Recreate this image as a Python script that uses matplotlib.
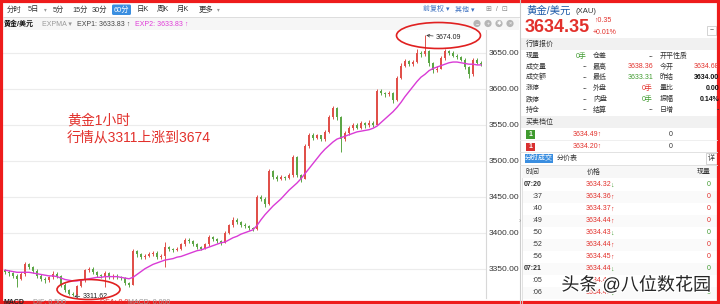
import matplotlib
matplotlib.use('Agg')
import matplotlib.pyplot as plt
import matplotlib.patheffects as pe
from matplotlib.patches import Rectangle, Ellipse, FancyBboxPatch, Circle

plt.rcParams['font.family'] = ['Liberation Sans', 'Noto Sans CJK SC', 'DejaVu Sans']

# 60 minute candles of XAU/USD (left -> right)
opens = [3348, 3346, 3344, 3340, 3336, 3342, 3356, 3352, 3347, 3340,
         3336, 3334, 3338, 3342, 3340, 3328, 3320, 3315, 3314, 3326,
         3334, 3348, 3350, 3345, 3341, 3340, 3344, 3338, 3340, 3338,
         3337, 3330, 3328, 3374, 3370, 3366, 3368, 3370, 3372, 3366,
         3368, 3380, 3377, 3376, 3378, 3384, 3390, 3388, 3384, 3380,
         3378, 3384, 3394, 3391, 3388, 3386, 3400, 3410, 3418, 3415,
         3411, 3409, 3406, 3405, 3450, 3447, 3440, 3485, 3478, 3475,
         3477, 3476, 3480, 3505, 3480, 3475, 3520, 3536, 3532, 3535,
         3530, 3540, 3560, 3573, 3560, 3530, 3538, 3545, 3550, 3546,
         3552, 3549, 3553, 3550, 3597, 3594, 3592, 3594, 3584, 3615,
         3632, 3638, 3634, 3637, 3650, 3648, 3652, 3635, 3626, 3628,
         3642, 3652, 3650, 3646, 3644, 3640, 3630, 3620, 3640, 3636]
closes = [3346, 3344, 3340, 3336, 3342, 3356, 3352, 3347, 3340, 3336,
          3334, 3338, 3342, 3340, 3328, 3320, 3315, 3314, 3326, 3334,
          3348, 3350, 3345, 3341, 3340, 3344, 3338, 3340, 3338, 3337,
          3330, 3328, 3374, 3370, 3366, 3368, 3370, 3372, 3366, 3368,
          3380, 3377, 3376, 3378, 3384, 3390, 3388, 3384, 3380, 3378,
          3384, 3394, 3391, 3388, 3386, 3400, 3410, 3418, 3415, 3411,
          3409, 3406, 3405, 3450, 3447, 3440, 3485, 3478, 3475, 3477,
          3476, 3480, 3505, 3480, 3475, 3520, 3536, 3532, 3535, 3530,
          3540, 3560, 3573, 3560, 3530, 3538, 3545, 3550, 3546, 3552,
          3549, 3553, 3550, 3597, 3594, 3592, 3594, 3584, 3615, 3632,
          3638, 3634, 3637, 3650, 3648, 3652, 3635, 3626, 3628, 3642,
          3652, 3650, 3646, 3644, 3640, 3630, 3620, 3640, 3636, 3634]
highs = [3350, 3348, 3346, 3342, 3345, 3359, 3358, 3354, 3349, 3342,
         3338, 3340, 3347, 3346, 3341, 3330, 3322, 3318, 3328, 3336,
         3350, 3353, 3352, 3347, 3343, 3347, 3345, 3342, 3342, 3340,
         3338, 3332, 3377, 3376, 3372, 3370, 3373, 3375, 3374, 3371,
         3387, 3382, 3379, 3380, 3386, 3392, 3392, 3390, 3386, 3382,
         3386, 3397, 3396, 3393, 3390, 3402, 3412, 3422, 3420, 3416,
         3413, 3411, 3408, 3452, 3452, 3449, 3488, 3487, 3480, 3480,
         3479, 3483, 3508, 3507, 3482, 3523, 3539, 3538, 3537, 3536,
         3543, 3563, 3576, 3575, 3562, 3541, 3548, 3553, 3552, 3555,
         3554, 3556, 3555, 3600, 3599, 3596, 3597, 3595, 3618, 3635,
         3641, 3640, 3640, 3655, 3653, 3674.09, 3654, 3637, 3631, 3645,
         3655, 3654, 3652, 3648, 3646, 3642, 3632, 3643, 3642, 3638]
lows = [3343, 3340, 3337, 3325, 3334, 3340, 3349, 3344, 3337, 3333,
        3330, 3332, 3336, 3337, 3325, 3318, 3313, 3311.62, 3313, 3324,
        3332, 3345, 3343, 3339, 3337, 3325, 3336, 3336, 3335, 3334,
        3328, 3324, 3327, 3366, 3364, 3364, 3366, 3368, 3364, 3364,
        3353, 3374, 3373, 3374, 3376, 3382, 3385, 3381, 3378, 3376,
        3377, 3382, 3389, 3386, 3383, 3385, 3398, 3408, 3412, 3408,
        3406, 3404, 3402, 3404, 3444, 3436, 3438, 3475, 3472, 3473,
        3473, 3474, 3478, 3477, 3471, 3474, 3518, 3529, 3530, 3527,
        3528, 3538, 3558, 3557, 3512, 3527, 3536, 3543, 3544, 3544,
        3546, 3547, 3547, 3549, 3591, 3589, 3590, 3580, 3583, 3613,
        3630, 3631, 3632, 3635, 3644, 3646, 3632, 3622, 3623, 3627,
        3640, 3647, 3644, 3641, 3638, 3627, 3615, 3618, 3634, 3632]
# EXPMA line (magenta)
expma = [3348, 3347, 3346, 3345, 3345, 3345, 3345, 3344, 3343, 3342,
         3341, 3340, 3340, 3339, 3337, 3335, 3334, 3333, 3333, 3334,
         3335, 3336, 3337, 3338, 3338, 3339, 3339, 3339, 3339, 3338,
         3337, 3336, 3338, 3342, 3346, 3350, 3353, 3356, 3358, 3360,
         3362, 3363, 3364, 3366, 3367, 3369, 3371, 3373, 3375, 3376,
         3378, 3380, 3382, 3384, 3386, 3387, 3390, 3393, 3395, 3398,
         3400, 3402, 3404, 3410, 3418, 3425, 3431, 3437, 3442, 3447,
         3453, 3459, 3464, 3469, 3475, 3482, 3489, 3496, 3503, 3510,
         3516, 3521, 3526, 3530, 3532, 3534, 3536, 3538, 3540, 3541,
         3542, 3543, 3545, 3548, 3553, 3558, 3563, 3568, 3574, 3581,
         3589, 3596, 3603, 3610, 3616, 3620, 3625, 3628, 3630, 3632,
         3634, 3636, 3637, 3637, 3636, 3635, 3634, 3634, 3633, 3633]

price_ticks = [3350, 3400, 3450, 3500, 3550, 3600, 3650]
peak_idx, peak_val = 105, 3674.09
low_idx, low_val = 17, 3311.62

tabs = ['分时', '5日', '5分', '15分', '30分', '60分', '日K', '周K', '月K', '更多']

quote_labels = [['现量', '仓差', '开平性质'],
                ['成交量', '最高', '今开'],
                ['成交额', '最低', '昨结'],
                ['涨停', '外盘', '量比'],
                ['跌停', '内盘', '振幅'],
                ['持仓', '结算', '日增']]
quote_values = [['0手', '--', ''],
                ['--', '3638.36', '3634.68'],
                ['--', '3633.31', '3634.00'],
                ['--', '0手', '0.00'],
                ['--', '0手', '0.14%'],
                ['--', '--', '-']]
book_prices = ['3634.49', '3634.20']
trade_times = ['07:20', ':37', ':40', ':49', ':50', ':52', ':56', '07:21', ':05', ':06']
trade_prices = ['3634.32', '3634.36', '3634.37', '3634.44', '3634.43',
                '3634.44', '3634.45', '3634.44', '3634.44', '3634.43']
trade_dirs = ['↓', '↑', '↑', '↑', '↓', '↑', '↑', '↓', '↑', '↓']
trade_vols = [0, 0, 0, 0, 0, 0, 0, 0, 0, 0]

RED = '#e2302b'
GREEN = '#3f9a2e'
UP = '#e0504a'
DOWN = '#5ca646'
W, H = 720, 304

fig = plt.figure(figsize=(W / 100, H / 100), dpi=100)
fig.patch.set_facecolor('white')

# ---- candle chart ----
ax = fig.add_axes([3 / W, (H - 298) / H, (486 - 3) / W, (298 - 22) / H])
ax.set_facecolor('white')
for yv in price_ticks:
    ax.axhline(yv, color='#ececec', lw=0.8, zorder=0)
for i in range(len(closes)):
    col = UP if closes[i] >= opens[i] else DOWN
    ax.vlines(i, lows[i], highs[i], color=col, lw=0.7, zorder=2)
    lo = min(opens[i], closes[i])
    hgt = max(abs(closes[i] - opens[i]), 0.8)
    ax.bar(i, hgt, bottom=lo, width=0.62, color=col, lw=0, zorder=3)
ax.plot(range(len(expma)), expma, color='#d93bd6', lw=1.0, zorder=4)
ax.set_xlim(-0.5, 120.25)
ax.set_ylim(3309.3, 3692.6)
ax.set_xticks([])
ax.yaxis.tick_right()
ax.set_yticks(price_ticks)
ax.set_yticklabels(['%.2f' % v for v in price_ticks])
ax.tick_params(axis='y', length=0, pad=2, labelsize=6, labelcolor='#333333')
for s in ['top', 'left', 'bottom']:
    ax.spines[s].set_visible(False)
ax.spines['right'].set_color('#d8d8d8')
ax.spines['right'].set_linewidth(0.8)

ax.annotate('%.2f' % peak_val, xy=(peak_idx + 0.3, peak_val), xytext=(7, -1.5),
            textcoords='offset points', ha='left', va='center', fontsize=5,
            color='#222222', arrowprops=dict(arrowstyle='->', lw=0.5, color='#333333',
                                             shrinkA=0, shrinkB=0))
ax.annotate('%.2f' % low_val, xy=(low_idx + 0.3, low_val), xytext=(6, 0),
            textcoords='offset points', ha='left', va='center', fontsize=5,
            color='#222222', arrowprops=dict(arrowstyle='->', lw=0.5, color='#333333',
                                             shrinkA=0, shrinkB=0))

# ---- overlay in pixel coordinates ----
ov = fig.add_axes([0, 0, 1, 1], zorder=5)
ov.set_xlim(0, W)
ov.set_ylim(H, 0)
ov.axis('off')
ov.patch.set_alpha(0)


def t(x, y, s, size=5, color='#333333', ha='left', va='center', **kw):
    ov.text(x, y, s, fontsize=size, color=color, ha=ha, va=va, **kw)


# toolbar
ov.add_patch(Rectangle((3, 17), 516, 13, color='#f6f6f6', lw=0, zorder=0))
ov.plot([3, 519], [17, 17], color='#dddddd', lw=0.7)
tab_x = [7, 28, 53, 72, 92, 114, 137, 157, 177, 199]
for name, x in zip(tabs, tab_x):
    if name == '60分':
        ov.add_patch(FancyBboxPatch((x - 2, 4.5), 19, 10.5, boxstyle='round,pad=0,rounding_size=1.5',
                                    color='#3a8ee0', lw=0))
        t(x, 9.8, name, 5.3, 'white')
    else:
        t(x, 9.8, name, 5.3, '#333333')
t(44, 9.8, '▾', 4, '#999999')
t(217, 9.8, '▾', 4, '#999999')
t(4, 24, '黄金/美元', 5, '#111111', weight='bold')
t(42, 24, 'EXPMA ▾', 5, '#999999')
t(77, 24, 'EXP1: 3633.83 ↑', 5, '#444444')
t(135, 24, 'EXP2: 3633.83 ↑', 5, '#e03ad8')
t(423, 9.8, '前复权 ▾', 5, '#3a6fc0')
t(455, 9.8, '其他 ▾', 5, '#3a6fc0')
t(486, 9.8, '⊞  /  ⊡', 5, '#888888')
for cx, sym in zip([477, 488, 499, 510], ['−', '+', '✱', '×']):
    ov.add_patch(Circle((cx, 23.5), 3.6, color='#b5b5b5', lw=0))
    t(cx, 23.5, sym, 4, 'white', ha='center')

# annotation text and ellipses
t(67, 121, '黄金1小时', 10, RED)
t(67, 138, '行情从3311上涨到3674', 10, RED)
ov.add_patch(Ellipse((438.5, 35.5), 84, 26, fill=False, ec='#e02020', lw=1.2))
ov.add_patch(Ellipse((88.5, 289.5), 63, 20, fill=False, ec='#e02020', lw=1.2))

# MACD strip (mostly hidden under border)
t(4, 298.5, 'MACD', 5, '#222222', va='top', weight='bold')
t(33, 298.5, 'DIF: 0.500', 5, '#999999', va='top')
t(100, 298.5, 'DEA: 0.0', 5, RED, va='top')
t(128, 298.5, 'MACD: 0.000', 5, '#999999', va='top')

# ---- right quote panel ----
ov.plot([519.5, 519.5], [0, H], color='#cccccc', lw=0.8)
t(526, 11, '黄金/美元', 7.5, '#1d5aa8')
t(576, 11.5, '(XAU)', 5.5, '#333333')
t(525, 28, '3634.35', 13, RED, weight='bold')
t(594, 20.5, '↑0.35', 5, RED)
t(593, 33, '+0.01%', 5, RED)
ov.add_patch(Rectangle((707, 26), 9, 9, fill=False, ec='#cccccc', lw=0.6))
t(711.5, 30.5, '−', 5, '#555555', ha='center')

ov.add_patch(Rectangle((520, 38), 197, 12, color='#f1f1f1', lw=0))
t(526, 44, '行情报价', 5, '#333333')
val_colors = [[GREEN, '#333333', '#333333'],
              ['#333333', RED, RED],
              ['#333333', GREEN, '#111111'],
              ['#333333', RED, '#111111'],
              ['#333333', GREEN, '#111111'],
              ['#333333', '#333333', '#333333']]
row_y = [56.5, 67, 77.5, 88.5, 99.5, 110]
lab_x = [526, 593, 660]
val_x = [587, 653, 719]
for r in range(len(quote_labels)):
    for c in range(3):
        t(lab_x[c], row_y[r], quote_labels[r][c], 5, '#333333')
        wt = 'bold' if (c == 2 and r >= 2) else 'normal'
        t(val_x[c], row_y[r], quote_values[r][c], 5, val_colors[r][c], ha='right', weight=wt)

ov.add_patch(Rectangle((520, 116), 197, 12, color='#f1f1f1', lw=0))
t(526, 122, '买卖档位', 5, '#333333')
for k, (yy, box_col) in enumerate(zip([134, 146.5], [GREEN, '#d93030'])):
    ov.add_patch(Rectangle((526, yy - 4), 8.5, 8.5, color=box_col, lw=0))
    t(530.2, yy, '1', 5, 'white', ha='center', weight='bold')
    t(573, yy, book_prices[k] + '↑', 5, RED)
    t(673, yy, '0', 5, '#333333', ha='right')
ov.plot([520, 717], [140.2, 140.2], color='#ececec', lw=0.6)

# trade ticks tab
ov.plot([520, 717], [152, 152], color='#dddddd', lw=0.6)
ov.add_patch(Rectangle((525, 153.5), 28, 9.5, color='#3a8ee0', lw=0))
t(539, 158.3, '分时成交', 5, 'white', ha='center')
t(557, 158.3, '分价表', 5, '#333333')
ov.add_patch(Rectangle((706, 153), 11, 11, fill=False, ec='#cccccc', lw=0.6))
t(711.5, 158.5, '详', 5, '#333333', ha='center')
ov.plot([520, 717], [165, 165], color='#dddddd', lw=0.6)
ov.add_patch(Rectangle((522, 166), 195, 12, color='#f7f7f7', lw=0))
t(525, 172, '时间', 5, '#333333')
t(587, 172, '价格', 5, '#333333')
t(711, 172, '现量', 5, '#333333', ha='right')
ov.plot([522, 522], [178, H], color='#dddddd', lw=0.6)
for k in range(len(trade_times)):
    yy = 185 + 12 * k
    if k % 2 == 1:
        ov.add_patch(Rectangle((523, yy - 6), 194, 12, color='#fafafa', lw=0))
    wt = 'bold' if ':' in trade_times[k][1:] else 'normal'
    t(542, yy, trade_times[k], 5, '#333333', ha='right', weight=wt)
    arrow_col = RED if trade_dirs[k] == '↑' else GREEN
    t(586, yy, trade_prices[k], 5, RED)
    t(610, yy, trade_dirs[k], 5, arrow_col)
    t(711, yy, str(trade_vols[k]), 5, arrow_col, ha='right')
t(519, 222, '›', 5, '#999999')

# watermark
ov.text(636, 285.5, '头条 @八位数花园', fontsize=13, color='#262626', ha='center', va='center',
        path_effects=[pe.withStroke(linewidth=2, foreground='white')])

# red frame around the screenshot
ov.add_patch(Rectangle((1.2, 0.8), 717, 301.5, fill=False, ec='#ee1c1c', lw=2.3))

fig.savefig('out.png', dpi=100)
